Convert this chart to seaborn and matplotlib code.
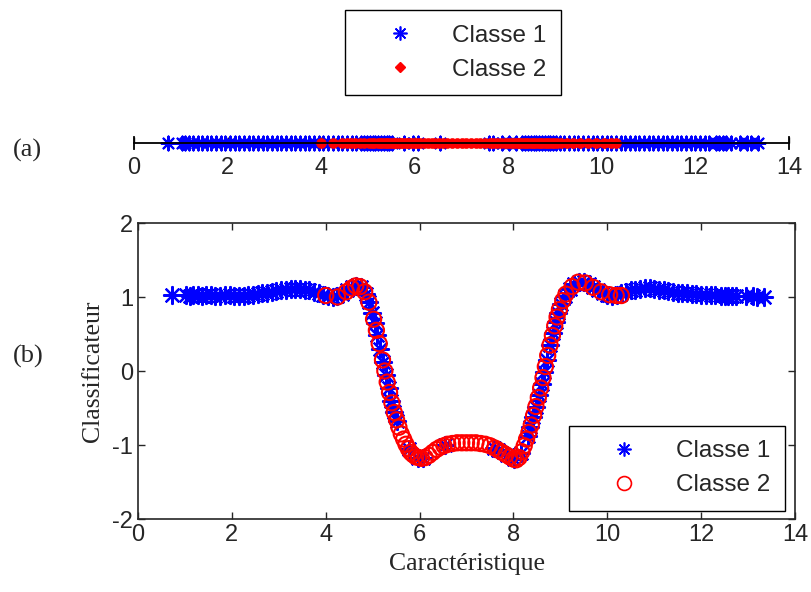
import numpy as np
import pandas as pd
import seaborn as sns
import matplotlib.pyplot as plt
from matplotlib.lines import Line2D

# Classe 1 : caracteristique / sortie du classificateur
x1 = [0.72, 1.03, 1.10, 1.18, 1.27, 1.36, 1.45, 1.56,
      1.65, 1.75, 1.85, 1.95, 2.05, 2.15, 2.25, 2.35, 2.45, 2.55,
      2.65, 2.75, 2.85, 2.95, 3.05, 3.15, 3.25, 3.35, 3.45, 3.55,
      3.65, 3.75, 3.85, 3.95, 4.05, 4.15, 4.25, 4.35, 4.45, 4.55,
      4.65, 4.75, 4.85, 4.92, 4.98, 5.04, 5.10, 5.16, 5.22, 5.28,
      5.34, 5.40, 5.46, 5.52,
      5.77, 5.96, 6.07, 6.54, 7.59, 7.67, 7.86, 8.01, 8.16,
      8.30, 8.36, 8.42, 8.48, 8.54, 8.60, 8.66, 8.72, 8.78, 8.84,
      8.90, 8.96, 9.02, 9.10, 9.20, 9.30, 9.40, 9.50, 9.60, 9.70,
      9.80, 9.90, 10.00, 10.10, 10.20, 10.30, 10.40, 10.50, 10.60, 10.70,
      10.80, 10.90, 11.00, 11.10, 11.20, 11.30, 11.40, 11.50, 11.60, 11.70,
      11.80, 11.90, 12.00, 12.10, 12.20, 12.30,
      12.43, 12.50, 12.58, 12.66, 12.75, 12.95, 13.10, 13.18, 13.33]
y1 = [1.03, 1.03, 1.02, 1.03, 1.03, 1.02, 1.03, 1.03,
      1.02, 1.02, 1.03, 1.03, 1.02, 1.01, 1.02, 1.03, 1.03, 1.04,
      1.05, 1.06, 1.07, 1.08, 1.09, 1.10, 1.11, 1.11, 1.11, 1.10,
      1.09, 1.07, 1.05, 1.03, 1.01, 1.00, 1.01, 1.04, 1.09, 1.13,
      1.15, 1.13, 1.04, 0.93, 0.79, 0.65, 0.48, 0.30, 0.12, -0.06,
      -0.23, -0.40, -0.56, -0.68,
      -1.06, -1.17, -1.18, -1.00, -1.04, -1.07, -1.14, -1.19, -1.11,
      -0.88, -0.76, -0.62, -0.48, -0.33, -0.18, -0.01, 0.15, 0.35, 0.52,
      0.66, 0.79, 0.90, 1.02, 1.11, 1.17, 1.20, 1.20, 1.17, 1.13,
      1.09, 1.05, 1.03, 1.02, 1.03, 1.05, 1.07, 1.09, 1.10, 1.11,
      1.12, 1.12, 1.11, 1.10, 1.09, 1.08, 1.07, 1.06, 1.05, 1.05,
      1.04, 1.04, 1.03, 1.03, 1.03, 1.03,
      1.02, 1.02, 1.02, 1.02, 1.02, 1.01, 1.01, 1.00, 1.00]

# Classe 2
x2 = [4.00, 4.25, 4.44, 4.55, 4.64, 4.73, 4.83, 4.92, 5.02, 5.08,
      5.14, 5.21, 5.26, 5.31, 5.36, 5.41, 5.46, 5.51, 5.56, 5.61,
      5.66, 5.71, 5.76, 5.81, 5.86, 5.92, 5.98, 6.04, 6.12, 6.20,
      6.28, 6.36, 6.44, 6.52, 6.60, 6.70, 6.80, 6.90, 7.00, 7.10,
      7.20, 7.30, 7.40, 7.50, 7.60, 7.68, 7.76, 7.84, 7.92, 8.00,
      8.06, 8.12, 8.18, 8.23, 8.28, 8.33, 8.38, 8.43, 8.48, 8.53,
      8.58, 8.63, 8.68, 8.73, 8.78, 8.83, 8.88, 8.93, 8.98, 9.05,
      9.12, 9.25, 9.38, 9.53, 9.70, 9.87, 10.05, 10.19, 10.30]
y2 = [1.02, 1.00, 1.07, 1.12, 1.15, 1.14, 1.07, 0.93, 0.70, 0.55,
      0.37, 0.15, 0.00, -0.15, -0.29, -0.43, -0.56, -0.66, -0.76, -0.85,
      -0.92, -0.99, -1.05, -1.10, -1.13, -1.16, -1.17, -1.18, -1.17, -1.14,
      -1.10, -1.06, -1.03, -1.01, -0.99, -0.98, -0.97, -0.97, -0.97, -0.97,
      -0.97, -0.98, -0.99, -1.01, -1.04, -1.07, -1.10, -1.13, -1.16, -1.19,
      -1.20, -1.17, -1.09, -1.01, -0.92, -0.83, -0.73, -0.60, -0.48, -0.36,
      -0.23, -0.09, 0.06, 0.21, 0.35, 0.48, 0.61, 0.73, 0.83, 0.95,
      1.04, 1.14, 1.20, 1.19, 1.13, 1.07, 1.03, 1.02, 1.02]

xticks = [0, 2, 4, 6, 8, 10, 12, 14]
yticks = [-2, -1, 0, 1, 2]
labels = ['Classe 1', 'Classe 2']

df1 = pd.DataFrame({'x': x1, 'y': y1})
df2 = pd.DataFrame({'x': x2, 'y': y2})
df1['zero'] = 0.0
df2['zero'] = 0.0

sns.set_style('white')
plt.rcParams['font.family'] = ['Liberation Sans', 'DejaVu Sans']
plt.rcParams['axes.unicode_minus'] = False
serif = ['Liberation Serif', 'DejaVu Serif']
ink = '#262626'
blue = '#0000ff'
red = '#ff0000'
star = (8, 2, 0)

fig = plt.figure(figsize=(8.11, 5.92), dpi=100)
axa = fig.add_axes([134/811, 1-149/592, 655/811, 12/592])
axb = fig.add_axes([138/811, 1-519/592, 657/811, 296/592])

# (a) la caracteristique seule
sns.scatterplot(data=df1, x='x', y='zero', ax=axa, marker=star, s=100,
                color=blue, linewidth=1.5, clip_on=False, legend=False)
sns.scatterplot(data=df2, x='x', y='zero', ax=axa, marker='o', s=50,
                color=red, edgecolor=red, linewidth=0.5, clip_on=False, legend=False)
axa.set_xlim(0, 14)
axa.set_ylim(-1, 1)
axa.set_xlabel('')
axa.set_ylabel('')
axa.set_yticks([])
axa.set_xticks(xticks)
axa.spines['top'].set_visible(False)
axa.spines['bottom'].set_position('center')
for s in ['bottom', 'left', 'right']:
    axa.spines[s].set_color('black')
    axa.spines[s].set_linewidth(1.3)
axa.tick_params(axis='x', direction='in', length=4, width=1, pad=10,
                labelsize=17, labelcolor=ink, bottom=True)
axa.patch.set_visible(False)

# (b) sortie du classificateur
sns.scatterplot(data=df1, x='x', y='y', ax=axb, marker=star, s=150,
                color=blue, linewidth=1.6, legend=False)
sns.scatterplot(data=df2, x='x', y='y', ax=axb, marker='o', s=120,
                color=red, facecolor='none', edgecolor=red, linewidth=1.5, legend=False)
axb.set_xlim(0, 14)
axb.set_ylim(-2, 2)
axb.set_xticks(xticks)
axb.set_yticks(yticks)
axb.tick_params(direction='in', length=5, width=1, top=True, right=True,
                bottom=True, left=True, labelsize=17, labelcolor=ink)
for s in axb.spines.values():
    s.set_color(ink)
    s.set_linewidth(1.2)
axb.set_xlabel('Caractéristique', family=serif, fontsize=18.5, color=ink, labelpad=5)
axb.set_ylabel('Classificateur', family=serif, fontsize=18.5, color=ink, labelpad=6)

fig.text(13/811, 1-150/592, '(a)', family=serif, fontsize=19, color=ink, va='center')
fig.text(13/811, 1-356/592, '(b)', family=serif, fontsize=19, color=ink, va='center')

# legendes
h1 = Line2D([], [], ls='', marker=star, color=blue, markersize=10, markeredgewidth=1.2)
h2a = Line2D([], [], ls='', marker='D', color=red, markersize=5)
h2b = Line2D([], [], ls='', marker='o', markerfacecolor='none', markeredgecolor=red,
             markersize=10, markeredgewidth=1.2)
leg_kw = dict(fancybox=False, edgecolor='black', framealpha=1, borderpad=0.6,
              handlelength=3.3, handletextpad=0.5, labelspacing=0.5, fontsize=17.5,
              borderaxespad=0, bbox_transform=fig.transFigure)
la = fig.legend([h1, h2a], labels, loc='upper left',
                bbox_to_anchor=(345/811, 1-10/592), **leg_kw)
lb = axb.legend([h1, h2b], labels, loc='lower right',
                bbox_to_anchor=(785/811, 1-511/592), **leg_kw)
for lg in [la, lb]:
    lg.get_frame().set_linewidth(1.0)
    for t in lg.get_texts():
        t.set_color(ink)

fig.savefig('out.png', dpi=100)
